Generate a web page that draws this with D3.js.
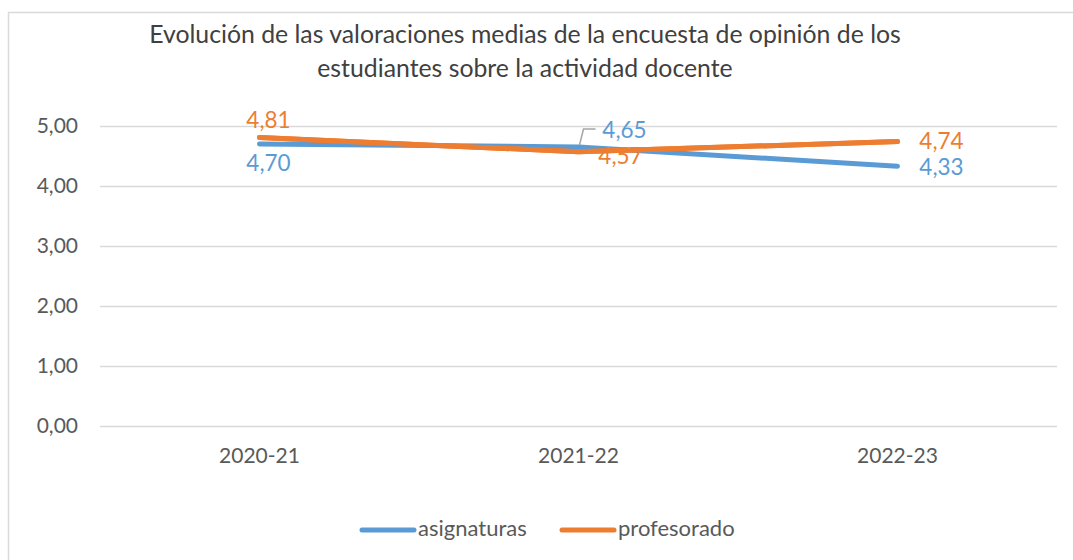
<!DOCTYPE html>
<meta charset="utf-8">
<script src="https://d3js.org/d3.v7.min.js"></script>
<style>
  body { margin: 0; background: #fff; }
  text { font-family: Lato, "Open Sans", sans-serif; }
</style>
<body>
<div id="chart"></div>
<script>
// chart data
var cursos = ["2020-21", "2021-22", "2022-23"];
var asignaturas = [4.70, 4.65, 4.33];
var profesorado = [4.81, 4.57, 4.74];
var yTicks = [0, 1, 2, 3, 4, 5];
var titleLines = ["Evolución de las valoraciones medias de la encuesta de opinión de los",
                  "estudiantes sobre la actividad docente"];

var width = 1073, height = 560;
var margin = {top: 126, right: 16, bottom: 134, left: 100};

var svg = d3.select("#chart").append("svg")
    .attr("width", width)
    .attr("height", height);

// outer frame (runs off the right and bottom edges)
svg.append("rect")
    .attr("x", 8.5).attr("y", 12.5)
    .attr("width", width + 20).attr("height", height + 20)
    .attr("fill", "none")
    .attr("stroke", "#d9d9d9")
    .attr("stroke-width", 1.5);

var x = d3.scaleBand()
    .domain(cursos)
    .range([margin.left, width - margin.right]);

var y = d3.scaleLinear()
    .domain([0, 5])
    .range([height - margin.bottom, margin.top]);

var fmt = function(v) { return d3.format(".2f")(v).replace(".", ","); };

// title
svg.append("text")
    .attr("text-anchor", "middle")
    .attr("fill", "#404040")
    .style("font-size", "24.8px")
    .selectAll("tspan")
    .data(titleLines)
    .enter().append("tspan")
    .attr("x", 525)
    .attr("y", function(d, i) { return 43 + i * 34; })
    .text(function(d) { return d; });

// grid + y labels
var yAxis = svg.append("g")
    .attr("transform", "translate(" + margin.left + ",0)")
    .call(d3.axisLeft(y).tickValues(yTicks).tickSize(-(width - margin.left - margin.right))
        .tickFormat(fmt).tickPadding(22));
yAxis.select(".domain").remove();
yAxis.selectAll("line").attr("stroke", "#d9d9d9").attr("stroke-width", 1.5);
yAxis.selectAll("text").attr("fill", "#595959").style("font-size", "21px")
    .style("font-family", "Lato, 'Open Sans', sans-serif");

// x labels
var xAxis = svg.append("g")
    .attr("transform", "translate(0," + y(0) + ")")
    .call(d3.axisBottom(x).tickSize(0).tickPadding(22));
xAxis.select(".domain").remove();
xAxis.selectAll("text").attr("fill", "#595959").style("font-size", "21px")
    .style("font-family", "Lato, 'Open Sans', sans-serif");

var cx = function(d, i) { return x(cursos[i]) + x.bandwidth() / 2; };

var series = [
  {name: "asignaturas", values: asignaturas, color: "#5b9bd5"},
  {name: "profesorado", values: profesorado, color: "#ed7d31"}
];

var line = d3.line()
    .x(function(d, i) { return cx(d, i); })
    .y(function(d) { return y(d); });

series.forEach(function(s) {
  svg.append("path")
      .datum(s.values)
      .attr("d", line)
      .attr("fill", "none")
      .attr("stroke", s.color)
      .attr("stroke-width", 5)
      .attr("stroke-linecap", "round")
      .attr("stroke-linejoin", "round");
});

// data labels: offsets per point [dx, dy]
var asigPos = [[9, 21], [46, -15], [44, 3]];
var profPos = [[9, -15], [42, 6], [44, 2]];

// leader line for the 4,65 label
svg.append("path")
    .attr("d", "M" + (cx(0, 1) + 1) + "," + (y(asignaturas[1]) - 2) +
               " L" + (cx(0, 1) + 5) + "," + (y(asignaturas[1]) - 18) +
               " L" + (cx(0, 1) + 17) + "," + (y(asignaturas[1]) - 18))
    .attr("fill", "none")
    .attr("stroke", "#a6a6a6")
    .attr("stroke-width", 1.5);

function labels(vals, pos, color) {
  svg.append("g").selectAll("text")
      .data(vals)
      .enter().append("text")
      .attr("x", function(d, i) { return cx(d, i) + pos[i][0]; })
      .attr("y", function(d, i) { return y(d) + pos[i][1]; })
      .attr("text-anchor", "middle")
      .attr("dominant-baseline", "middle")
      .attr("fill", color)
      .style("font-size", "22.5px")
      .text(fmt);
}
labels(asignaturas, asigPos, "#5b9bd5");
labels(profesorado, profPos, "#ed7d31");

// redraw orange over its 4,57 label like the original
svg.append("path")
    .datum(profesorado)
    .attr("d", line)
    .attr("fill", "none")
    .attr("stroke", "#ed7d31")
    .attr("stroke-width", 5)
    .attr("stroke-linecap", "round")
    .attr("stroke-linejoin", "round");

// legend
var legend = svg.append("g").attr("transform", "translate(0,530)");
var legendX = [362, 562];
series.forEach(function(s, i) {
  legend.append("line")
      .attr("x1", legendX[i]).attr("x2", legendX[i] + 52)
      .attr("y1", 0).attr("y2", 0)
      .attr("stroke", s.color)
      .attr("stroke-width", 5)
      .attr("stroke-linecap", "round");
  legend.append("text")
      .attr("x", legendX[i] + 56)
      .attr("y", 0)
      .attr("dominant-baseline", "middle")
      .attr("fill", "#595959")
      .style("font-size", "22px")
      .text(s.name);
});
</script>
</body>
